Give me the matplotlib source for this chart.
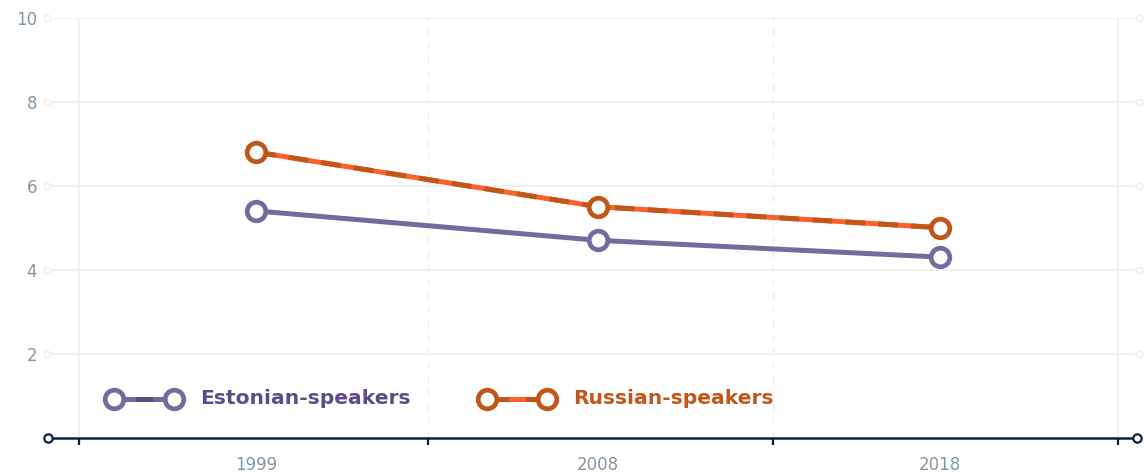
import numpy as np
import matplotlib.pyplot as plt
from matplotlib.transforms import blended_transform_factory

# ---------------------------------------------------------
# Data
# ---------------------------------------------------------
years = ["1999", "2008", "2018"]
estonian = [5.4, 4.7, 4.3]
russian = [6.8, 5.5, 5.0]
y_ticks = [2, 4, 6, 8, 10]

# ---------------------------------------------------------
# Style
# ---------------------------------------------------------
c_est = "#736ba0"
c_est_text = "#5e4a8b"
c_rus_dark = "#c0561a"
c_rus_light = "#ff5f2a"
c_grid = "#f1f0eb"
c_tick = "#8496a6"
c_axis = "#0d2240"

plt.rcParams["font.family"] = ["DejaVu Sans"]

W, H = 1144, 472
fig = plt.figure(figsize=(W / 100, H / 100), dpi=100)
ax_l, ax_r, ax_t, ax_b = 48, 1137, 17.7, 437.7
ax = fig.add_axes([ax_l / W, (H - ax_b) / H, (ax_r - ax_l) / W, (ax_b - ax_t) / H])

# pixel layout of the x scale: first/last category and band edges
px_first, px_last = 256, 940
edge_px = [79, 428, 773, 1118]

x = np.arange(len(years))
unit = (px_last - px_first) / (len(years) - 1)
ax.set_xlim((ax_l - px_first) / unit, (ax_r - px_first) / unit)
ax.set_ylim(0, 10)
edges = [(p - px_first) / unit for p in edge_px]

for s in ["top", "left", "right"]:
    ax.spines[s].set_visible(False)
ax.spines["bottom"].set_color(c_axis)
ax.spines["bottom"].set_linewidth(1.8)
ax.spines["bottom"].set_zorder(5)

# horizontal grid with small hollow end dots
for yv in y_ticks:
    ax.axhline(yv, xmin=2 / 1089, xmax=1 - 1 / 1089, color=c_grid, lw=1.5, zorder=0)
bt = blended_transform_factory(ax.transAxes, ax.transData)
ax.plot([-1 / 1089] * len(y_ticks), y_ticks, "o", ms=4.5, mfc="white", mec=c_grid,
        mew=1.2, transform=bt, clip_on=False, zorder=1)
ax.plot([1 + 2 / 1089] * len(y_ticks), y_ticks, "o", ms=4.5, mfc="white", mec=c_grid,
        mew=1.2, transform=bt, clip_on=False, zorder=1)

# vertical band edges: solid outside, dashed inside
for i, e in enumerate(edges):
    if i in (0, len(edges) - 1):
        ax.axvline(e, color=c_grid, lw=1.5, zorder=0)
    else:
        ax.axvline(e, color="#eeeeee", lw=1.0, ls=(0, (5, 5)), zorder=0)

# axis end circles
ax.plot([0, 1], [0, 0], "o", ms=6, mfc="white", mec=c_axis, mew=1.6,
        transform=ax.transAxes, clip_on=False, zorder=6)

# ticks
ax.set_xticks(edges)
ax.set_xticklabels([])
ax.tick_params(axis="x", which="major", length=5, width=1.6, color=c_axis)
ax.set_xticks(x, minor=True)
ax.set_xticklabels(years, minor=True)
ax.tick_params(axis="x", which="minor", length=0, pad=13, labelsize=12, labelcolor=c_tick)
ax.set_yticks(y_ticks)
ax.set_yticklabels([str(v) for v in y_ticks])
ax.tick_params(axis="y", length=0, pad=8, labelsize=12, labelcolor=c_tick)

# ---------------------------------------------------------
# Lines
# ---------------------------------------------------------
lw = 3.6
ax.plot(x, estonian, color=c_est, lw=lw, zorder=3, solid_capstyle="butt")
ax.plot(x, russian, color=c_rus_light, lw=lw, zorder=3, solid_capstyle="butt")
ax.plot(x, russian, color=c_rus_dark, lw=lw, zorder=3, dashes=(4, 2.6), dash_capstyle="butt")

ms, mew = 13.4, 3.4
ax.plot(x, estonian, "o", ms=ms, mfc="white", mec=c_est, mew=mew, zorder=4, clip_on=False)
ax.plot(x, russian, "o", ms=ms, mfc="white", mec=c_rus_dark, mew=mew, zorder=4, clip_on=False)

# ---------------------------------------------------------
# Legend
# ---------------------------------------------------------
def fx(px):
    return (px - ax_l) / (ax_r - ax_l)

ly = (ax_b - 399) / (ax_b - ax_t)
items = [
    (114, 174, 200, c_est, c_est_text, c_est_text, "Estonian-speakers"),
    (487, 547, 573, c_rus_dark, c_rus_dark, c_rus_light, "Russian-speakers"),
]
for a, b, t, col, tcol, mid, label in items:
    ax.plot([fx(a), fx(b)], [ly, ly], color=col, lw=lw, transform=ax.transAxes,
            clip_on=False, zorder=3)
    c = (a + b) / 2
    ax.plot([fx(c - 6), fx(c + 6)], [ly, ly], color=mid, lw=lw, transform=ax.transAxes,
            clip_on=False, zorder=3)
    ax.plot([fx(a), fx(b)], [ly, ly], "o", ms=ms, mfc="white", mec=col, mew=mew,
            transform=ax.transAxes, clip_on=False, zorder=4)
    ax.text(fx(t), ly, label, transform=ax.transAxes, color=tcol, fontsize=14.6,
            fontweight="bold", va="center", ha="left")

fig.savefig("out.png", dpi=100)
